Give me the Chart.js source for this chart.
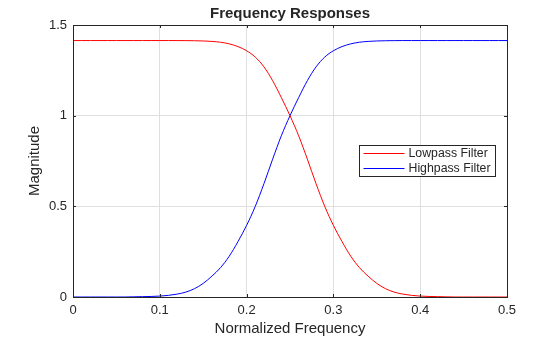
<!DOCTYPE html>
<html>
<head>
<meta charset="utf-8">
<script src="https://cdn.jsdelivr.net/npm/chart.js@4/dist/chart.umd.min.js"></script>
<style>
  html, body { margin: 0; padding: 0; background: #fff; }
  #wrap { width: 560px; height: 337px; position: relative; }
</style>
</head>
<body>
<div id="wrap"><canvas id="chart"></canvas></div>
<script>
// normalized frequency, 0 .. 0.5 step 0.01
const freq = [
  0.00, 0.01, 0.02, 0.03, 0.04, 0.05, 0.06, 0.07, 0.08, 0.09,
  0.10, 0.11, 0.12, 0.13, 0.14, 0.15, 0.16, 0.17, 0.18, 0.19,
  0.20, 0.21, 0.22, 0.23, 0.24, 0.25, 0.26, 0.27, 0.28, 0.29,
  0.30, 0.31, 0.32, 0.33, 0.34, 0.35, 0.36, 0.37, 0.38, 0.39,
  0.40, 0.41, 0.42, 0.43, 0.44, 0.45, 0.46, 0.47, 0.48, 0.49, 0.50
];
const lowpass = [
  1.4142, 1.4142, 1.4142, 1.4142, 1.4142, 1.4142, 1.4142, 1.4142, 1.4142, 1.4142,
  1.4142, 1.4142, 1.4142, 1.4138, 1.4132, 1.412, 1.4095, 1.405, 1.396, 1.381,
  1.358, 1.323, 1.269, 1.193, 1.10, 1.00, 0.889, 0.76, 0.625, 0.50,
  0.395, 0.305, 0.225, 0.162, 0.115, 0.075, 0.046, 0.027, 0.016, 0.009,
  0.005, 0.003, 0.002, 0.001, 0, 0, 0, 0, 0, 0, 0
];
const highpass = [
  0, 0, 0, 0, 0, 0, 0, 0.001, 0.002, 0.003,
  0.005, 0.009, 0.016, 0.027, 0.046, 0.075, 0.115, 0.162, 0.225, 0.305,
  0.395, 0.50, 0.625, 0.76, 0.889, 1.00, 1.10, 1.193, 1.269, 1.323,
  1.358, 1.381, 1.396, 1.405, 1.4095, 1.412, 1.4132, 1.4138, 1.4142, 1.4142,
  1.4142, 1.4142, 1.4142, 1.4142, 1.4142, 1.4142, 1.4142, 1.4142, 1.4142, 1.4142, 1.4142
];
const seriesLabels = ['Lowpass Filter', 'Highpass Filter'];
const xTicks = [0, 0.1, 0.2, 0.3, 0.4, 0.5];
const yTicks = [0, 0.5, 1, 1.5];

const FONT = "'Liberation Sans', Arial, Helvetica, sans-serif";
const INK = '#262626';

// axes box + inward ticks on all four sides, MATLAB style
const boxPlugin = {
  id: 'box',
  afterDatasetsDraw(chart) {
    const { ctx, chartArea: a, scales } = chart;
    ctx.save();
    ctx.strokeStyle = INK;
    ctx.lineWidth = 1;
    ctx.strokeRect(Math.round(a.left) + 0.5, Math.round(a.top) + 0.5,
      Math.round(a.right - a.left), Math.round(a.bottom - a.top));
    ctx.beginPath();
    xTicks.forEach(v => {
      const x = Math.round(scales.x.getPixelForValue(v)) + 0.5;
      ctx.moveTo(x, a.bottom); ctx.lineTo(x, a.bottom - 3);
      ctx.moveTo(x, a.top); ctx.lineTo(x, a.top + 3);
    });
    yTicks.forEach(v => {
      const y = Math.round(scales.y.getPixelForValue(v)) + 0.5;
      ctx.moveTo(a.left, y); ctx.lineTo(a.left + 3, y);
      ctx.moveTo(a.right, y); ctx.lineTo(a.right - 3, y);
    });
    ctx.stroke();
    ctx.restore();
  }
};

// legend box inside the axes, upper right of centre
const legendPlugin = {
  id: 'boxLegend',
  afterDraw(chart) {
    const { ctx, chartArea: a } = chart;
    const x0 = Math.round(a.right) - 147.5, y0 = 145.5, w = 136, h = 31;
    ctx.save();
    ctx.fillStyle = '#fff';
    ctx.fillRect(x0, y0, w, h);
    ctx.strokeStyle = INK;
    ctx.lineWidth = 1;
    ctx.strokeRect(x0, y0, w, h);
    ctx.font = '12.3px ' + FONT;
    ctx.textBaseline = 'middle';
    chart.data.datasets.forEach((ds, i) => {
      const y = y0 + 8 + i * 15;
      ctx.strokeStyle = ds.borderColor;
      ctx.beginPath();
      ctx.moveTo(x0 + 4, y); ctx.lineTo(x0 + 45, y);
      ctx.stroke();
      ctx.fillStyle = INK;
      ctx.fillText(ds.label, x0 + 49, y + 0.5);
    });
    ctx.restore();
  }
};

new Chart(document.getElementById('chart'), {
  type: 'line',
  data: {
    datasets: [
      { label: seriesLabels[0], data: freq.map((f, i) => ({ x: f, y: lowpass[i] })), borderColor: '#ff0000' },
      { label: seriesLabels[1], data: freq.map((f, i) => ({ x: f, y: highpass[i] })), borderColor: '#0000ff' }
    ]
  },
  options: {
    responsive: true,
    maintainAspectRatio: false,
    animation: false,
    layout: { padding: { left: 0, right: 53, top: 0, bottom: 0 } },
    elements: {
      point: { radius: 0 },
      line: { borderWidth: 1, cubicInterpolationMode: 'monotone', fill: false }
    },
    plugins: {
      legend: { display: false },
      tooltip: { enabled: false },
      title: {
        display: true,
        fullSize: false,
        text: 'Frequency Responses',
        color: INK,
        font: { family: FONT, size: 15, weight: 'bold', lineHeight: 1.2 },
        padding: { top: 5, bottom: 2 }
      }
    },
    scales: {
      x: {
        type: 'linear',
        min: 0, max: 0.5,
        afterBuildTicks: s => { s.ticks = xTicks.map(v => ({ value: v })); },
        afterFit: s => { s.height = 40; },
        ticks: { color: INK, font: { family: FONT, size: 13 }, padding: 6, maxRotation: 0,
          callback: v => String(Math.round(v * 10) / 10) },
        grid: { color: '#dfdfdf', drawTicks: false },
        border: { display: false },
        title: { display: true, text: 'Normalized Frequency', color: INK,
          font: { family: FONT, size: 15, lineHeight: 1 }, padding: { top: 0, bottom: 1 } }
      },
      y: {
        min: 0, max: 1.5,
        afterBuildTicks: s => { s.ticks = yTicks.map(v => ({ value: v })); },
        afterFit: s => { s.width = 73; },
        ticks: { color: INK, font: { family: FONT, size: 13 }, padding: 6,
          callback: v => String(Math.round(v * 10) / 10) },
        grid: { color: '#dfdfdf', drawTicks: false },
        border: { display: false },
        title: { display: true, text: 'Magnitude', color: INK,
          font: { family: FONT, size: 15, lineHeight: 1 }, padding: { top: 27, bottom: 0 } }
      }
    }
  },
  plugins: [boxPlugin, legendPlugin]
});
</script>
</body>
</html>
